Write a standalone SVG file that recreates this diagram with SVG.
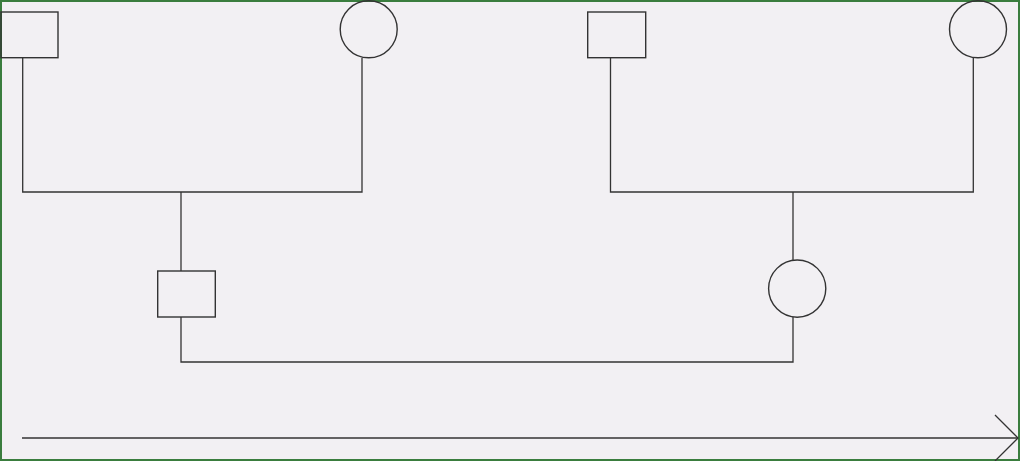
<svg xmlns="http://www.w3.org/2000/svg" width="1020" height="461" viewBox="0 0 1020 461">
<style>
.n{fill:none;stroke:#333;stroke-width:1.4}
.c{fill:none;stroke:#333;stroke-width:1.3}
</style>
<rect x="1" y="1" width="1018" height="459" fill="#f2f0f3" stroke="#3a7d3e" stroke-width="2"/>
<g id="connectors">
<polyline class="c" points="22.7,58 22.7,192 362,192 362,58"/>
<polyline class="c" points="181,192 181,271"/>
<polyline class="c" points="181,317 181,362 793,362 793,317"/>
<polyline class="c" points="610.5,58 610.5,192 973.3,192 973.3,58"/>
<polyline class="c" points="793,192 793,260"/>
<line class="c" x1="22" y1="438" x2="1018" y2="438"/>
<polyline class="c" points="995,415 1018,438 995,461"/>
</g>
<g id="n1"><rect class="n" x="1" y="12" width="57" height="45.7"/></g>
<g id="n2"><circle class="n" cx="368.7" cy="29.3" r="28.5"/></g>
<g id="n3"><rect class="n" x="587.7" y="12" width="58" height="45.7"/></g>
<g id="n4"><circle class="n" cx="978" cy="29.3" r="28.5"/></g>
<g id="n5"><rect class="n" x="157.7" y="271" width="57.6" height="46"/></g>
<g id="n6"><circle class="n" cx="797.2" cy="288.6" r="28.6"/></g>
</svg>
